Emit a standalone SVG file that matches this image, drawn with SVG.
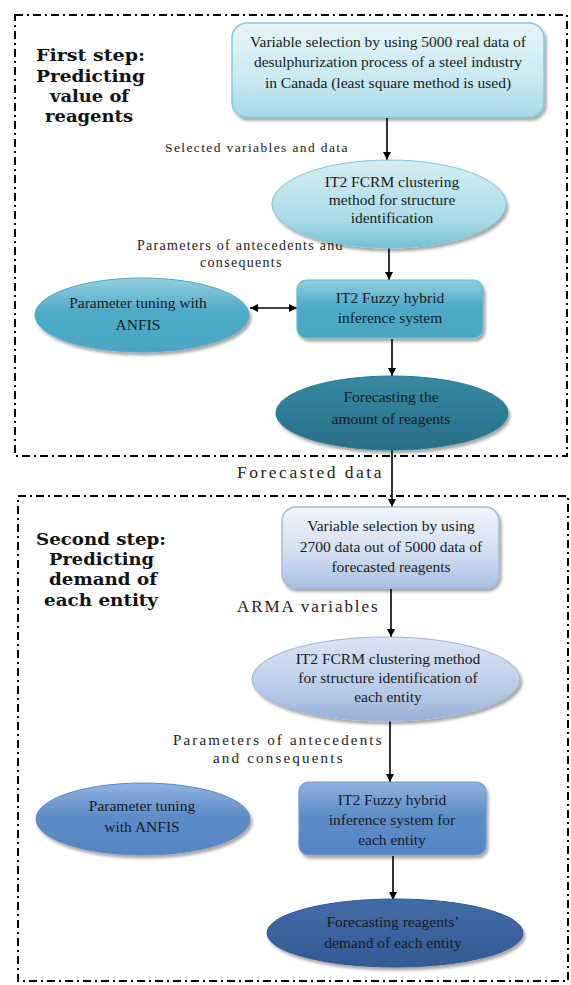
<svg xmlns="http://www.w3.org/2000/svg" width="571" height="985" viewBox="0 0 571 985">
<style>
.frame{fill:none;stroke:#000;stroke-width:2;stroke-dasharray:8 4 2 4}
.nt{font-family:"Liberation Serif","Times New Roman",serif;font-size:15.5px;fill:#1a1a1a;text-anchor:middle}
.lb{font-family:"Liberation Serif","Times New Roman",serif;fill:#222;letter-spacing:0.5px}
.st{font-family:"DejaVu Serif","Liberation Serif",serif;font-weight:bold;font-size:16.5px;fill:#111}
.conn{fill:none;stroke:#000;stroke-width:1.6}
</style>
<defs>
<linearGradient id="g1" x1="0" y1="0" x2="0" y2="1"><stop offset="0" stop-color="#e6f5f9"/><stop offset="0.6" stop-color="#c8e9f1"/><stop offset="1" stop-color="#a6d9e6"/></linearGradient>
<linearGradient id="g2" x1="0" y1="0" x2="0" y2="1"><stop offset="0" stop-color="#d6eef4"/><stop offset="0.7" stop-color="#a8dae7"/><stop offset="1" stop-color="#72c0d4"/></linearGradient>
<linearGradient id="g3" x1="0" y1="0" x2="0" y2="1"><stop offset="0" stop-color="#93d0e1"/><stop offset="0.45" stop-color="#4eabc8"/><stop offset="1" stop-color="#4aa6c3"/></linearGradient>
<linearGradient id="g4" x1="0" y1="0" x2="0" y2="1"><stop offset="0" stop-color="#358aa2"/><stop offset="1" stop-color="#276f86"/></linearGradient>
<linearGradient id="g5" x1="0" y1="0" x2="0" y2="1"><stop offset="0" stop-color="#f1f5fb"/><stop offset="0.6" stop-color="#d0dcef"/><stop offset="1" stop-color="#a9c0e2"/></linearGradient>
<linearGradient id="g6" x1="0" y1="0" x2="0" y2="1"><stop offset="0" stop-color="#dbe5f3"/><stop offset="0.7" stop-color="#b4c8e6"/><stop offset="1" stop-color="#95afd9"/></linearGradient>
<linearGradient id="g7" x1="0" y1="0" x2="0" y2="1"><stop offset="0" stop-color="#92b3df"/><stop offset="0.45" stop-color="#5e8dc9"/><stop offset="1" stop-color="#5584c3"/></linearGradient>
<linearGradient id="g8" x1="0" y1="0" x2="0" y2="1"><stop offset="0" stop-color="#426ba8"/><stop offset="1" stop-color="#335a94"/></linearGradient>
<filter id="sh" x="-10%" y="-10%" width="125%" height="130%"><feDropShadow dx="2" dy="3" stdDeviation="1.5" flood-color="#000" flood-opacity="0.35"/></filter>
<marker id="ah" viewBox="0 0 10 10" refX="10" refY="5" markerWidth="8" markerHeight="8" markerUnits="userSpaceOnUse" orient="auto-start-reverse"><path d="M0,0 L10,5 L0,10 z" fill="#000"/></marker>
</defs>

<g id="frames">
<rect class="frame" x="15" y="15" width="552" height="441"/>
<rect class="frame" x="18" y="496" width="550" height="485"/>
</g>

<g id="step1-label">
<text class="st" x="36" y="61" textLength="109" lengthAdjust="spacingAndGlyphs">First step:</text>
<text class="st" x="36" y="82" textLength="109" lengthAdjust="spacingAndGlyphs">Predicting</text>
<text class="st" x="50" y="102" textLength="79" lengthAdjust="spacingAndGlyphs">value of</text>
<text class="st" x="45" y="122" textLength="88" lengthAdjust="spacingAndGlyphs">reagents</text>
</g>
<g id="step2-label">
<text class="st" x="36" y="545" textLength="130" lengthAdjust="spacingAndGlyphs">Second step:</text>
<text class="st" x="49" y="565" textLength="105" lengthAdjust="spacingAndGlyphs">Predicting</text>
<text class="st" x="49" y="585" textLength="108" lengthAdjust="spacingAndGlyphs">demand of</text>
<text class="st" x="44" y="606" textLength="114" lengthAdjust="spacingAndGlyphs">each entity</text>
</g>

<g id="connectors">
<line class="conn" x1="387" y1="118" x2="387" y2="160" marker-end="url(#ah)"/>
<line class="conn" x1="389" y1="248" x2="389" y2="280" marker-end="url(#ah)"/>
<line class="conn" x1="250" y1="308" x2="297" y2="308" marker-start="url(#ah)" marker-end="url(#ah)"/>
<line class="conn" x1="392" y1="339" x2="392" y2="376" marker-end="url(#ah)"/>
<line class="conn" x1="392" y1="450" x2="392" y2="507" marker-end="url(#ah)"/>
<line class="conn" x1="391" y1="589" x2="391" y2="637" marker-end="url(#ah)"/>
<line class="conn" x1="390" y1="721" x2="390" y2="782" marker-end="url(#ah)"/>
<line class="conn" x1="393" y1="856" x2="393" y2="900" marker-end="url(#ah)"/>
<text class="lb" x="165" y="152" font-size="13.5" textLength="183">Selected variables and data</text>
<text class="lb" x="137" y="250" font-size="14" textLength="206">Parameters of antecedents and</text>
<text class="lb" x="200" y="267" font-size="14" textLength="82">consequents</text>
<text class="lb" x="237" y="478" font-size="17.5" textLength="145">Forecasted data</text>
<text class="lb" x="237" y="612" font-size="17" textLength="141">ARMA variables</text>
<text class="lb" x="173" y="745" font-size="15" textLength="209">Parameters of antecedents</text>
<text class="lb" x="213" y="763" font-size="15" textLength="130">and consequents</text>
</g>

<g id="n1">
<rect x="232" y="23" width="312" height="94" rx="15" fill="url(#g1)" stroke="#86cadb" stroke-width="1.5" filter="url(#sh)"/>
<text class="nt" x="388" y="47">Variable selection by using 5000 real data of</text>
<text class="nt" x="388" y="67">desulphurization process of a steel industry</text>
<text class="nt" x="388" y="88">in Canada (least square method is used)</text>
</g>
<g id="n2">
<ellipse cx="389" cy="204" rx="117" ry="44" fill="url(#g2)" stroke="#7ec7d9" stroke-width="1" filter="url(#sh)"/>
<text class="nt" x="392" y="187">IT2 FCRM clustering</text>
<text class="nt" x="392" y="205">method for structure</text>
<text class="nt" x="392" y="223">identification</text>
</g>
<g id="n3">
<rect x="297" y="280" width="186" height="58" rx="10" fill="url(#g3)" stroke="#62b9d1" stroke-width="1.2" filter="url(#sh)"/>
<text class="nt" x="390" y="303">IT2 Fuzzy hybrid</text>
<text class="nt" x="390" y="323">inference system</text>
</g>
<g id="n4">
<ellipse cx="142" cy="315" rx="107" ry="37" fill="url(#g3)" stroke="#4fa9c4" stroke-width="1" filter="url(#sh)"/>
<text class="nt" x="138" y="308">Parameter tuning with</text>
<text class="nt" x="138" y="330">ANFIS</text>
</g>
<g id="n5">
<ellipse cx="392" cy="413" rx="116" ry="37" fill="url(#g4)" stroke="#2a7890" stroke-width="1" filter="url(#sh)"/>
<text class="nt" x="391" y="402" fill="#0e2a33">Forecasting the</text>
<text class="nt" x="391" y="424" fill="#0e2a33">amount of reagents</text>
</g>

<g id="n6">
<rect x="282" y="507" width="217" height="81" rx="14" fill="url(#g5)" stroke="#a3bbdf" stroke-width="1.5" filter="url(#sh)"/>
<text class="nt" x="391" y="531">Variable selection by using</text>
<text class="nt" x="391" y="552">2700 data out of 5000 data of</text>
<text class="nt" x="391" y="572">forecasted reagents</text>
</g>
<g id="n7">
<ellipse cx="386" cy="679" rx="134" ry="42" fill="url(#g6)" stroke="#9db5dc" stroke-width="1" filter="url(#sh)"/>
<text class="nt" x="388" y="664">IT2 FCRM clustering method</text>
<text class="nt" x="388" y="683">for structure identification of</text>
<text class="nt" x="388" y="702">each entity</text>
</g>
<g id="n8">
<rect x="299" y="782" width="187" height="73" rx="10" fill="url(#g7)" stroke="#6e97cf" stroke-width="1.2" filter="url(#sh)"/>
<text class="nt" x="392" y="805">IT2 Fuzzy hybrid</text>
<text class="nt" x="392" y="825">inference system for</text>
<text class="nt" x="392" y="845">each entity</text>
</g>
<g id="n9">
<ellipse cx="143" cy="819" rx="107" ry="36" fill="url(#g7)" stroke="#5a87c4" stroke-width="1" filter="url(#sh)"/>
<text class="nt" x="142" y="811">Parameter tuning</text>
<text class="nt" x="142" y="832">with ANFIS</text>
</g>
<g id="n10">
<ellipse cx="395" cy="933" rx="128" ry="34" fill="url(#g8)" stroke="#2f5690" stroke-width="1" filter="url(#sh)"/>
<text class="nt" x="393" y="927" fill="#0d1e3a">Forecasting reagents’</text>
<text class="nt" x="393" y="948" fill="#0d1e3a">demand of each entity</text>
</g>
</svg>
